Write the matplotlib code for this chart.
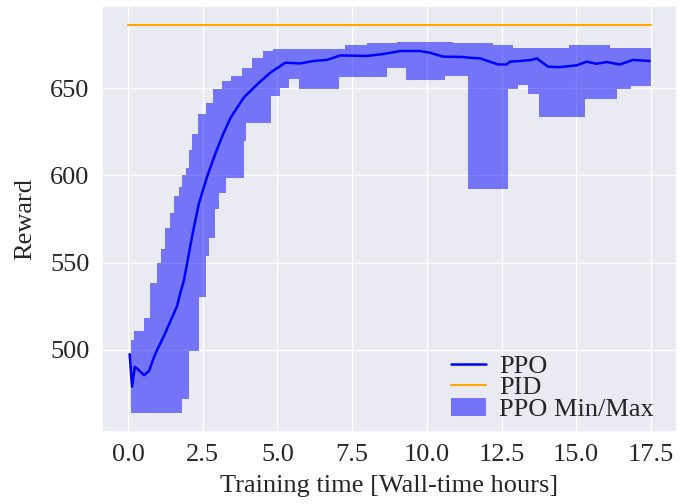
import numpy as np
import matplotlib
matplotlib.use("Agg")
import matplotlib.pyplot as plt
import seaborn as sns

# PPO mean reward
ppo_x = [0.05, 0.13, 0.22, 0.35, 0.53, 0.70, 0.86, 0.98, 1.20, 1.42, 1.64, 1.75,
         1.87, 2.00, 2.15, 2.37, 2.65, 2.92, 3.15, 3.43, 3.87, 4.32, 4.76, 5.26,
         5.77, 6.21, 6.66, 7.10, 8.00, 8.50, 9.11, 9.78, 10.11, 10.55, 11.22,
         11.39, 11.78, 12.39, 12.67, 12.78, 13.12, 13.51, 13.68, 14.06, 14.45,
         15.01, 15.35, 15.68, 16.02, 16.46, 16.90, 17.46]
ppo_y = [497.5, 478.8, 490.2, 488.5, 485.4, 487.9, 495.6, 500.3, 508.0, 516.6,
         525.2, 532.8, 540.0, 552.0, 566.0, 584.0, 599.6, 612.5, 622.5, 633.1,
         644.6, 652.2, 658.9, 664.6, 664.2, 665.6, 666.2, 668.8, 668.5, 669.5,
         671.3, 671.3, 670.3, 668.1, 667.9, 667.5, 667.1, 663.6, 663.6, 665.2,
         665.6, 666.2, 667.1, 662.3, 662.1, 663.1, 665.2, 664.0, 665.0, 663.6,
         666.2, 665.6]

# PID reference
pid_x = [0.0, 17.5]
pid_y = [686.0, 686.0]

# PPO max envelope (step breakpoints)
max_x = [0.08, 0.19, 0.53, 0.73, 0.97, 1.10, 1.25, 1.40, 1.55, 1.70, 1.80, 1.92,
         2.03, 2.15, 2.35, 2.60, 2.85, 3.15, 3.45, 3.80, 4.15, 4.50, 4.85, 7.27,
         8.00, 9.00, 10.89, 12.23, 12.87, 14.77, 16.13]
max_y = [505.5, 510.9, 518.5, 538.5, 550.0, 557.6, 570.0, 578.7, 588.2, 593.4,
         600.0, 604.4, 614.6, 623.5, 635.0, 641.7, 649.3, 654.1, 657.0, 661.7,
         667.5, 671.3, 672.5, 674.7, 675.7, 676.5, 675.7, 674.7, 673.2, 674.7,
         672.8]

# PPO min envelope (step breakpoints)
min_x = [0.08, 1.79, 2.03, 2.37, 2.59, 2.70, 2.92, 3.04, 3.28, 3.87, 3.95, 4.78,
         5.10, 5.37, 5.71, 7.05, 8.66, 9.31, 10.61, 11.39, 12.73, 13.06, 13.40,
         13.76, 15.29, 16.37, 16.85]
min_y = [464.0, 471.7, 499.4, 530.0, 553.8, 564.3, 580.5, 590.0, 598.7, 620.0,
         630.2, 645.5, 650.3, 655.0, 649.3, 656.4, 661.7, 654.5, 657.0, 592.4,
         649.7, 651.8, 646.8, 633.5, 644.0, 649.7, 651.3]
band_end = 17.49

sns.set_theme(style="darkgrid")
plt.rcParams['font.family'] = ['Liberation Serif', 'DejaVu Serif']

FS = 19

fig = plt.figure(figsize=(6.94, 5.04), dpi=100)
ax = fig.add_axes([0.147, 0.143, 0.8285, 0.845])

grid = np.unique(np.concatenate([max_x, min_x, [band_end]]))
def step_lookup(bx, by, g):
    idx = np.searchsorted(bx, g, side='right') - 1
    idx = np.clip(idx, 0, len(by) - 1)
    return np.asarray(by)[idx]
hi = step_lookup(np.array(max_x), max_y, grid)
lo = step_lookup(np.array(min_x), min_y, grid)

ax.plot(ppo_x, ppo_y, color='#0000ff', lw=1.8, label='PPO', zorder=3)
ax.plot(pid_x, pid_y, color='orange', lw=1.5, label='PID', zorder=3)
ax.fill_between(grid, lo, hi, step='post', color='blue', alpha=0.5,
                linewidth=0, label='PPO Min/Max', zorder=2)

ax.set_xticks([0, 2.5, 5, 7.5, 10, 12.5, 15, 17.5])
ax.set_xticklabels(['0.0', '2.5', '5.0', '7.5', '10.0', '12.5', '15.0', '17.5'])
ax.set_yticks([500, 550, 600, 650])
ax.tick_params(labelsize=FS, colors='#262626', pad=3)
ax.set_xlabel('Training time [Wall-time hours]', fontsize=FS, labelpad=6)
ax.set_ylabel('Reward', fontsize=FS, labelpad=10)
ax.legend(loc='lower right', frameon=False, fontsize=FS,
          handlelength=1.3, labelspacing=-0.07, borderpad=0.3,
          handletextpad=0.5, bbox_to_anchor=(0.996, -0.024))

fig.savefig('out.png', dpi=100)
